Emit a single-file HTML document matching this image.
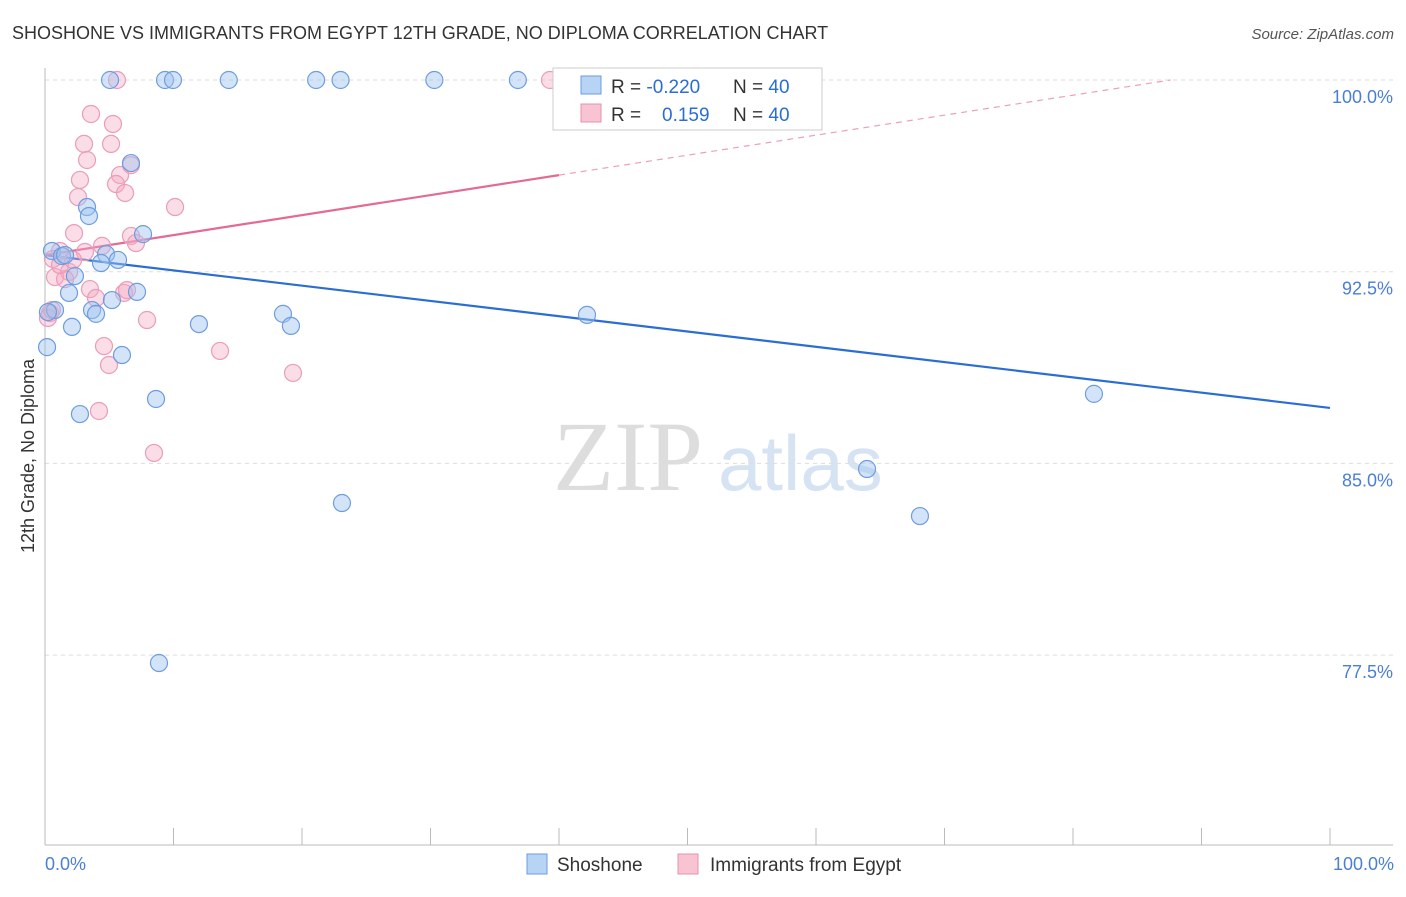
<!DOCTYPE html>
<html><head><meta charset="utf-8">
<style>
body{margin:0;background:#fff;font-family:"Liberation Sans",sans-serif;}
svg text{font-family:"Liberation Sans",sans-serif;}
</style></head>
<body>
<svg id="chart" width="1406" height="892" viewBox="0 0 1406 892" xmlns="http://www.w3.org/2000/svg">
<text x="12" y="39" font-size="18" fill="#333">SHOSHONE VS IMMIGRANTS FROM EGYPT 12TH GRADE, NO DIPLOMA CORRELATION CHART</text>
<text x="1394" y="39" font-size="15" fill="#555" font-style="italic" text-anchor="end">Source: ZipAtlas.com</text>
<g>
<text x="553" y="490" font-size="100" fill="#ddd" font-family="Liberation Serif" style="font-family:'Liberation Serif',serif">ZIP</text>
<text x="718" y="490" font-size="78" fill="#d6e3f3">atlas</text>
</g>
<g id="grid"></g>
<g id="axes"></g>
<g id="trends"></g>
<g id="points"></g>
<text transform="translate(34,456) rotate(-90)" font-size="18" fill="#333" text-anchor="middle">12th Grade, No Diploma</text>
<text x="45" y="870" font-size="18" fill="#4a7fd4">0.0%</text>
<text x="1394" y="870" font-size="18" fill="#4a7fd4" text-anchor="end">100.0%</text>
<g>
<rect x="553" y="68" width="269" height="62" fill="#fff" stroke="#ccc"/>
<rect x="581" y="76" width="20" height="18" fill="#b8d4f4" stroke="#6a9be0"/>
<rect x="581" y="104" width="20" height="18" fill="#f8c4d4" stroke="#e890ac"/>
<text x="611" y="93" font-size="19" fill="#333">R = <tspan fill="#2a6dd4">-0.220</tspan></text>
<text x="733" y="93" font-size="19" fill="#333">N = <tspan fill="#2a6dd4">40</tspan></text>
<text x="611" y="121" font-size="19" fill="#333">R = </text>
<text x="662" y="121" font-size="19" fill="#2a6dd4">0.159</text>
<text x="733" y="121" font-size="19" fill="#333">N = <tspan fill="#2a6dd4">40</tspan></text>
</g>
<g>
<rect x="527" y="854" width="20" height="20" fill="#b8d4f4" stroke="#6a9be0"/>
<text x="557" y="871" font-size="19" fill="#333">Shoshone</text>
<rect x="678" y="854" width="20" height="20" fill="#f8c4d4" stroke="#e890ac"/>
<text x="710" y="871" font-size="19" fill="#333">Immigrants from Egypt</text>
</g>
</svg>
<script>
const yTicks=[100,92.5,85,77.5];
const yTickLabels=["100.0%","92.5%","85.0%","77.5%"];
const xTicks=[0,10,20,30,40,50,60,70,80,90,100];
const blueX=[5.06,9.34,9.96,14.3,21.1,23.0,30.3,36.8,6.69,3.27,3.42,7.63,0.54,1.32,4.75,4.36,5.68,1.87,7.16,5.21,3.66,3.97,0.78,2.10,11.98,18.52,19.14,42.18,0.16,5.99,8.64,2.72,23.11,63.97,68.09,81.63,8.87,2.33,1.56,0.23];
const blueY=[100,100,100,100,100,100,100,100,96.75,95.03,94.68,93.97,93.31,93.11,93.19,92.84,92.96,91.67,91.71,91.39,91.0,90.85,91.0,90.34,90.45,90.85,90.38,90.81,89.55,89.24,87.52,86.93,83.45,84.78,82.94,87.72,77.19,92.33,93.15,90.92];
const pinkX=[5.60,39.3,3.58,5.29,3.04,5.14,3.27,6.69,5.84,2.72,5.53,6.23,2.57,10.12,2.26,6.69,7.08,4.44,1.17,3.11,0.62,1.87,0.78,1.56,3.50,3.97,6.15,0.39,0.23,7.94,4.59,13.62,4.98,19.30,4.20,8.48,1.17,2.18,0.54,6.38];
const pinkY=[100,100,98.67,98.28,97.50,97.50,96.87,96.67,96.28,96.09,95.93,95.58,95.42,95.03,94.01,93.90,93.62,93.51,93.31,93.27,93.0,92.49,92.29,92.21,91.82,91.47,91.67,90.88,90.69,90.61,89.59,89.40,88.85,88.54,87.05,85.41,92.76,92.96,91.0,91.78];
const blueTrend=[93.15,87.17];
const pinkTrend=[93.15,100.97];
const NS="http://www.w3.org/2000/svg";
const X0=45,X1=1330,YTOP=80,PXPER=191.7/7.5;
function sx(v){return X0+(X1-X0)*v/100;}
function sy(v){return YTOP+(100-v)*PXPER;}
function mk(tag,attrs,parent){const e=document.createElementNS(NS,tag);for(const k in attrs)e.setAttribute(k,attrs[k]);document.getElementById(parent).appendChild(e);return e;}
yTicks.forEach((t,i)=>{
 const l=mk('line',{x1:45,x2:1393,y1:sy(t),y2:sy(t),stroke:'#ddd','stroke-dasharray':'4,4'},'grid');
 
 
 const tx=mk('text',{x:1393,y:sy(t)+23,'font-size':18,fill:'#4a7fd4','text-anchor':'end'},'grid');
 tx.textContent=yTickLabels[i];
 
 
});
let a=mk('line',{x1:45,x2:1393,y1:845,y2:845,stroke:'#bbb'},'axes');


a=mk('line',{x1:45,x2:45,y1:68,y2:845,stroke:'#bbb'},'axes');


xTicks.forEach(t=>{
 const l=mk('line',{x1:sx(t),x2:sx(t),y1:828,y2:845,stroke:'#bbb'},'axes');
 
 
});
let tl=mk('line',{x1:sx(0),y1:sy(blueTrend[0]),x2:sx(100),y2:sy(blueTrend[1]),stroke:'#2a6dd4','stroke-width':2.2},'trends');


function pAt(x){return pinkTrend[0]+(pinkTrend[1]-pinkTrend[0])*x/100;}
tl=mk('line',{x1:sx(0),y1:sy(pAt(0)),x2:sx(40),y2:sy(pAt(40)),stroke:'#e46a96','stroke-width':2.2},'trends');


const xEnd=100*(100-pinkTrend[0])/(pinkTrend[1]-pinkTrend[0]);
tl=mk('line',{x1:sx(40),y1:sy(pAt(40)),x2:sx(xEnd),y2:sy(100),stroke:'#eaa0bb','stroke-width':1.2,'stroke-dasharray':'6,5'},'trends');


pinkX.forEach((x,i)=>{
 const c=mk('circle',{cx:sx(x),cy:sy(pinkY[i]),r:8.5,fill:'rgba(244,170,196,0.4)',stroke:'#eb9cb8','stroke-width':1.2},'points');
 
 
});
blueX.forEach((x,i)=>{
 const c=mk('circle',{cx:sx(x),cy:sy(blueY[i]),r:8.5,fill:'rgba(160,196,240,0.45)',stroke:'#6d9ddf','stroke-width':1.2},'points');
 
 
});
</script>
</body></html>
